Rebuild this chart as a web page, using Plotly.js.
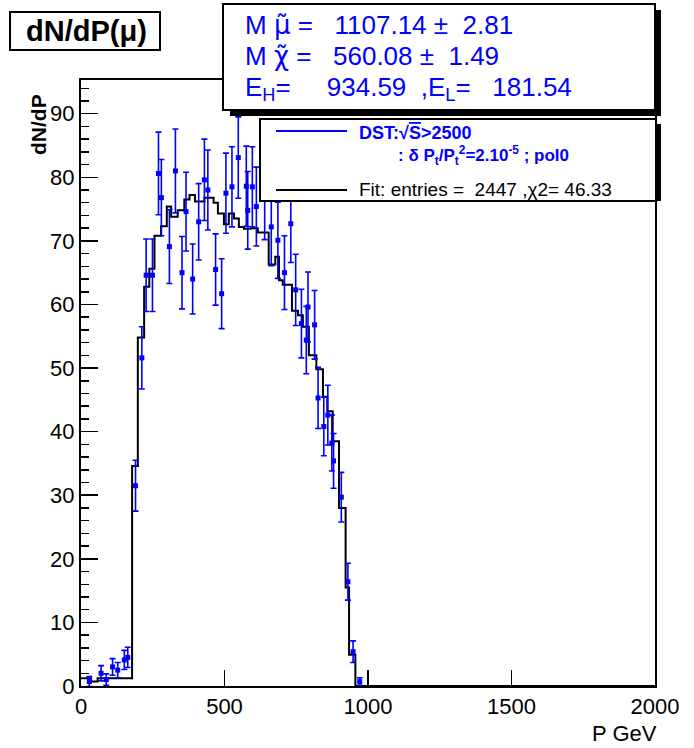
<!DOCTYPE html>
<html>
<head>
<meta charset="utf-8">
<script src="https://cdn.plot.ly/plotly-3.0.1.min.js"></script>
<style>html,body{margin:0;padding:0;background:#fff}#chart{width:694px;height:748px}</style>
</head>
<body>
<div id="chart"></div>
<script>
// ---- data ----
const dataX = [29, 70, 88, 110, 128, 151, 163, 190, 212, 227, 249, 270, 280, 308, 329, 352, 366,
  389, 410, 430, 442, 469, 490, 505, 526, 548, 576, 581, 597, 611, 640, 663, 686, 709, 731, 748, 768,
  785, 791, 814, 826, 846, 860, 874, 880, 907, 930, 948, 971];
const dataY = [0.7, 2.0, 1.0, 3.0, 2.5, 4.1, 4.5, 31.5, 51.6, 64.6, 64.6, 80.6, 76.8, 69.1, 81.0, 65.0, 74.6,
  64.0, 73.0, 79.6, 78.0, 65.5, 61.7, 77.5, 78.5, 83.1, 78.6, 74.8, 78.5, 75.4, 76.5, 72.2, 70.1, 65.0, 72.7, 62.3, 57.0,
  54.4, 59.6, 56.8, 45.3, 40.8, 42.6, 38.2, 35.4, 29.7, 16.4, 5.4, 0.7];
const dataErr = [0.8, 1.2, 0.9, 1.3, 1.2, 1.5, 1.6, 4.0, 4.9, 5.7, 5.7, 6.5, 6.0, 5.8, 6.6, 5.7, 6.2,
  5.5, 6.0, 6.4, 6.3, 5.6, 5.5, 6.3, 6.3, 6.4, 6.3, 6.1, 6.3, 6.2, 6.3, 6.1, 6.0, 5.8, 6.1, 5.6, 5.4,
  5.3, 5.5, 5.4, 4.8, 4.6, 4.7, 4.4, 4.3, 3.9, 2.9, 1.7, 0.6];

const fitEdges = [0, 35, 58, 178, 198, 220, 238, 256, 279, 299, 314, 337, 360, 378, 397, 430, 462, 477, 498, 515,
  533, 550, 568, 592, 616, 654, 677, 690, 703, 735, 756, 773, 794, 820, 843, 858, 877, 899, 922, 934, 956, 2000];
const fitValues = [1.2, 0.7, 1.2, 34.6, 54.8, 62.8, 65.6, 70.8, 72.3, 75.4, 73.8, 74.8, 76.5, 77.2, 76.2, 76.8, 76.0, 74.3, 72.6, 74.3,
  73.5, 72.2, 71.9, 72.0, 71.3, 66.3, 67.5, 63.8, 63.1, 59.0, 58.3, 56.5, 52.0, 49.8, 45.5, 43.2, 38.5, 28.0, 15.5, 4.9, 0];

const xTicks = [0, 500, 1000, 1500, 2000];
const yTicks = [0, 10, 20, 30, 40, 50, 60, 70, 80, 90];

const TILDE_FONT = "<span style='font-family:DejaVu Sans'>";
const statLines = [
  "M&nbsp;" + TILDE_FONT + "\u03BC\u0303</span>&nbsp;=&nbsp;&nbsp;&nbsp;1107.14&nbsp;\u00B1&nbsp;&nbsp;2.81",
  "M&nbsp;" + TILDE_FONT + "\u03C7\u0303</span>&nbsp;=&nbsp;&nbsp;&nbsp;560.08&nbsp;\u00B1&nbsp;&nbsp;1.49",
  "E<sub>H</sub>=&nbsp;&nbsp;&nbsp;&nbsp;&nbsp;934.59&nbsp;&nbsp;,E<sub>L</sub>=&nbsp;&nbsp;&nbsp;181.54"
];
const legendLine1 = "DST:\u221A<span style='text-decoration:overline'>S</span>&gt;2500";
const legendLine2 = ":&nbsp;\u03B4&nbsp;P<sub>t</sub>/P<sub>t</sub><sup>2</sup>=2.10<sup>-5</sup>&nbsp;;&nbsp;pol0";
const legendLine3 = "Fit:&nbsp;entries&nbsp;=&nbsp;&nbsp;2447&nbsp;,\u03C72=&nbsp;46.33";

// ---- layout geometry (pixels) ----
const L = 81, R = 655, T = 80, B = 686;
const px = v => (v - L) / (R - L);
const py = v => (B - v) / (B - T);
const FONT = "Liberation Sans, Arial, Helvetica, sans-serif";
const BLUE = "#0000ff";

const fitX = fitEdges;
const fitY = fitValues.concat([fitValues[fitValues.length - 1]]);

const traces = [
  {
    x: fitX, y: fitY, type: "scatter", mode: "lines",
    line: {shape: "hv", color: "#000", width: 2},
    hoverinfo: "skip", showlegend: false
  },
  {
    x: dataX, y: dataY, type: "scatter", mode: "markers",
    marker: {symbol: "square", size: 5, color: BLUE},
    error_y: {type: "data", array: dataErr, visible: true, color: BLUE, thickness: 1.6, width: 3},
    showlegend: false
  }
];

const shapes = [
  {type: "rect", xref: "paper", yref: "paper", x0: px(10), x1: px(160), y0: py(12), y1: py(50),
   line: {color: "#000", width: 2}, fillcolor: "#fff", layer: "above"},
  {type: "rect", xref: "paper", yref: "paper", x0: px(230), x1: px(661), y0: py(10), y1: py(116),
   line: {width: 0}, fillcolor: "#000", layer: "above"},
  {type: "rect", xref: "paper", yref: "paper", x0: px(223), x1: px(655), y0: py(4), y1: py(110),
   line: {color: "#000", width: 2}, fillcolor: "#fff", layer: "above"},
  {type: "rect", xref: "paper", yref: "paper", x0: px(655), x1: px(661), y0: py(124), y1: py(201),
   line: {width: 0}, fillcolor: "#000", layer: "above"},
  {type: "rect", xref: "paper", yref: "paper", x0: px(260), x1: px(656), y0: py(119), y1: py(201),
   line: {color: "#000", width: 2}, fillcolor: "#fff", layer: "above"},
  {type: "line", xref: "paper", yref: "paper", x0: px(276), x1: px(347), y0: py(131), y1: py(131),
   line: {color: BLUE, width: 2}, layer: "above"},
  {type: "line", xref: "paper", yref: "paper", x0: px(276), x1: px(347), y0: py(190), y1: py(190),
   line: {color: "#000", width: 2}, layer: "above"}
];

const ann = (text, x, y, opts) => Object.assign({
  text, xref: "paper", yref: "paper", x: px(x), y: py(y), showarrow: false,
  xanchor: "left", yanchor: "middle", font: {family: FONT, size: 20, color: "#000"}
}, opts || {});

const annotations = [
  ann("dN/dP(\u03BC)", 86, 31, {xanchor: "center", font: {family: FONT, size: 29, color: "#000", weight: "bold"}}),
  ann(statLines[0], 243, 25, {font: {family: FONT, size: 26, color: BLUE}}),
  ann(statLines[1], 243, 56, {font: {family: FONT, size: 26, color: BLUE}}),
  ann(statLines[2], 243, 88, {font: {family: FONT, size: 26, color: BLUE}}),
  ann(legendLine1, 357, 133, {font: {family: FONT, size: 18, color: BLUE, weight: "bold"}}),
  ann(legendLine2, 396, 155, {font: {family: FONT, size: 17, color: BLUE, weight: "bold"}}),
  ann(legendLine3, 357, 189, {font: {family: FONT, size: 19, color: "#000"}}),
  ann("dN/dP", 39, 125, {xanchor: "center", textangle: -90, font: {family: FONT, size: 21, color: "#000", weight: "bold"}}),
  ann("P GeV", 659, 733, {xanchor: "right", font: {family: FONT, size: 22, color: "#000"}})
];

const layout = {
  width: 694, height: 748,
  margin: {l: L, r: 694 - R, t: T, b: 748 - B, pad: 0},
  paper_bgcolor: "#fff", plot_bgcolor: "#fff",
  showlegend: false,
  font: {family: FONT, size: 22, color: "#000"},
  xaxis: {
    range: [0, 2000], tickmode: "array", tickvals: xTicks, ticktext: xTicks.map(String),
    ticks: "inside", ticklen: 16, tickwidth: 1.5, tickcolor: "#000",
    showline: true, linecolor: "#000", linewidth: 2, mirror: true,
    showgrid: false, zeroline: false, fixedrange: true,
    tickfont: {family: FONT, size: 22, color: "#000"}
  },
  yaxis: {
    range: [0, 95.3], tickmode: "array", tickvals: yTicks, ticktext: yTicks.map(String),
    ticks: "inside", ticklen: 17, tickwidth: 1.5, tickcolor: "#000",
    minor: {ticks: "inside", ticklen: 8, dtick: 2, tickwidth: 1.5, tickcolor: "#000", showgrid: false},
    showline: true, linecolor: "#000", linewidth: 2, mirror: true,
    showgrid: false, zeroline: false, fixedrange: true,
    tickfont: {family: FONT, size: 22, color: "#000"}
  },
  shapes, annotations
};

Plotly.newPlot("chart", traces, layout, {displayModeBar: false, staticPlot: true});
</script>
</body>
</html>
